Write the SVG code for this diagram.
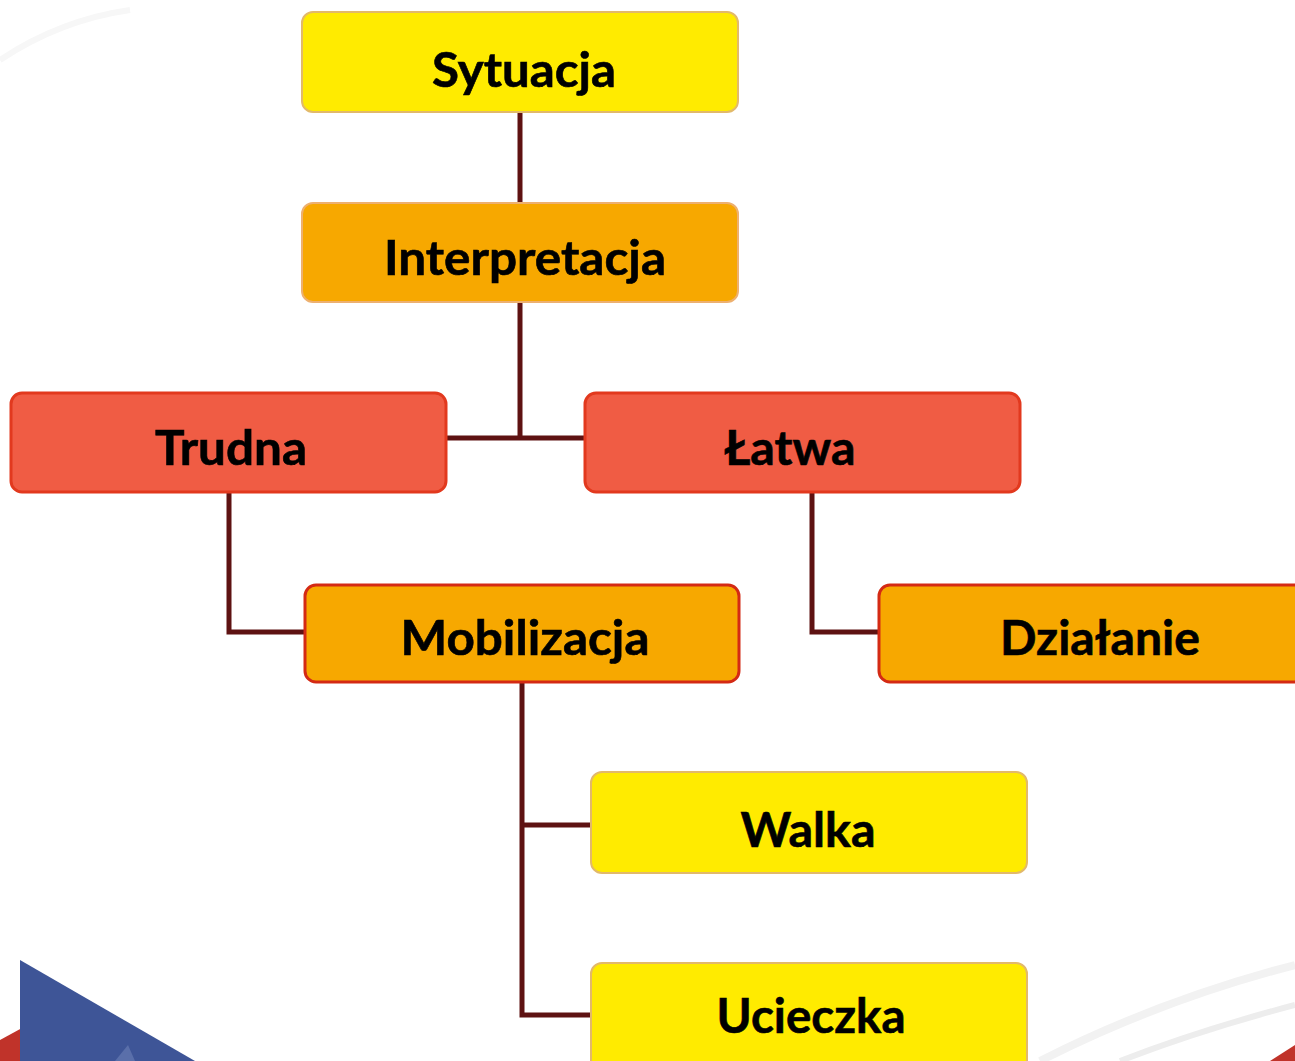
<svg xmlns="http://www.w3.org/2000/svg" width="1295" height="1061" viewBox="0 0 1295 1061">
<defs>
<style>
.yel{fill:#FFEB00;stroke:#E2B96A;stroke-width:2}
.org{fill:#F7A800;stroke:#EDB070;stroke-width:2}
.org2{fill:#F7A800;stroke:#D42A14;stroke-width:3}
.red{fill:#F05C44;stroke:#E2391E;stroke-width:3}
.lbl{font-family:Lato,"Open Sans","Liberation Sans",sans-serif;font-weight:bold;font-size:47px;fill:#000;text-anchor:middle;stroke:#000;stroke-width:0.6}
.con{fill:none;stroke:#5E1212;stroke-width:5}
</style>
</defs>
<rect width="1295" height="1061" fill="#FFFFFF"/>
<g id="background">
<path d="M0 60 Q60 20 130 10" fill="none" stroke="#F7F7F7" stroke-width="6"/>
<path d="M1040 1061 Q1160 1000 1295 965" fill="none" stroke="#F2F2F2" stroke-width="8"/>
<path d="M1120 1061 Q1200 1030 1295 1005" fill="none" stroke="#EDEDED" stroke-width="6"/>
<polygon points="0,1040 22,1028 22,1061 0,1061" fill="#C0332A"/>
<polygon points="20,960 195,1061 20,1061" fill="#3E5597"/>
<polygon points="115,1061 128,1045 135,1061" fill="#5A6FAA"/>
<polygon points="1270,1061 1295,1045 1295,1061" fill="#C0332A"/>
</g>
<g id="connectors">
<path class="con" d="M520 112 V203"/>
<path class="con" d="M520 302 V438 M446 438 H585"/>
<path class="con" d="M229 492 V632 H305"/>
<path class="con" d="M812 492 V632 H879"/>
<path class="con" d="M522 682 V1015 H591 M522 825 H591"/>
</g>
<g id="n-sytuacja">
<rect class="yel" x="302" y="12" width="436" height="100" rx="11"/>
<text class="lbl" x="524" y="87" textLength="184" lengthAdjust="spacingAndGlyphs">Sytuacja</text>
</g>
<g id="n-interpretacja">
<rect class="org" x="302" y="203" width="436" height="99" rx="11"/>
<text class="lbl" x="525" y="275" textLength="282" lengthAdjust="spacingAndGlyphs">Interpretacja</text>
</g>
<g id="n-trudna">
<rect class="red" x="11" y="393" width="435" height="99" rx="11"/>
<text class="lbl" x="231" y="465" textLength="152" lengthAdjust="spacingAndGlyphs">Trudna</text>
</g>
<g id="n-latwa">
<rect class="red" x="585" y="393" width="435" height="99" rx="11"/>
<text class="lbl" x="790" y="465" textLength="131" lengthAdjust="spacingAndGlyphs">Łatwa</text>
</g>
<g id="n-mobilizacja">
<rect class="org2" x="305" y="585" width="434" height="97" rx="11"/>
<text class="lbl" x="525" y="655" textLength="249" lengthAdjust="spacingAndGlyphs">Mobilizacja</text>
</g>
<g id="n-dzialanie">
<rect class="org2" x="879" y="585" width="440" height="97" rx="11"/>
<text class="lbl" x="1100" y="655" textLength="200" lengthAdjust="spacingAndGlyphs">Działanie</text>
</g>
<g id="n-walka">
<rect class="yel" x="591" y="772" width="436" height="101" rx="11"/>
<text class="lbl" x="808" y="847" textLength="135" lengthAdjust="spacingAndGlyphs">Walka</text>
</g>
<g id="n-ucieczka">
<rect class="yel" x="591" y="963" width="436" height="110" rx="11"/>
<text class="lbl" x="811" y="1033" textLength="189" lengthAdjust="spacingAndGlyphs">Ucieczka</text>
</g>
</svg>
